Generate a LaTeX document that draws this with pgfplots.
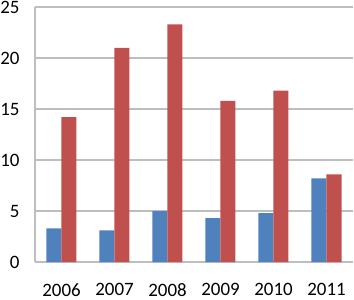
\documentclass[border=0pt]{standalone}
\usepackage{pgfplots}
\pgfplotsset{compat=1.18}
\usepackage{fontspec}
\setmainfont{Carlito}
\definecolor{sblue}{HTML}{4F81BD}
\definecolor{sred}{HTML}{C0504D}
\definecolor{gridc}{HTML}{BEBEBE}
\begin{document}
\begin{tikzpicture}
\begin{axis}[
  scale only axis,
  width=318bp, height=255bp,
  xmin=-0.5, xmax=5.5,
  ymin=0, ymax=25,
  ytick={0,5,10,15,20,25},
  xtick={0,1,2,3,4,5},
  xticklabels={2006,2007,2008,2009,2010,2011},
  major tick length=0pt,
  axis x line*=bottom, axis y line*=left,
  ymajorgrids,
  grid style={gridc, line width=1.2pt},
  axis line style={gridc, line width=1.2pt, -},
  ybar, bar width=15bp,
  tick label style={font=\fontsize{19}{22}\selectfont},
  /pgf/number format/assume math mode=true,
  yticklabel style={xshift=-12bp},
  xticklabel style={yshift=-18bp},
]
\addplot[fill=sblue, draw=none, bar shift=-7.5bp] coordinates {(0,3.3) (1,3.1) (2,5.0) (3,4.3) (4,4.8) (5,8.2)};
\addplot[fill=sred, draw=none, bar shift=7.5bp] coordinates {(0,14.2) (1,21.0) (2,23.3) (3,15.8) (4,16.8) (5,8.6)};
\coordinate (ll) at (rel axis cs:0,0);
\coordinate (ur) at (rel axis cs:1,1);
\end{axis}
\pgfresetboundingbox
\path[use as bounding box] ([xshift=-35bp,yshift=-38bp]ll) rectangle ([xshift=1bp,yshift=7bp]ur);
\end{tikzpicture}
\end{document}
